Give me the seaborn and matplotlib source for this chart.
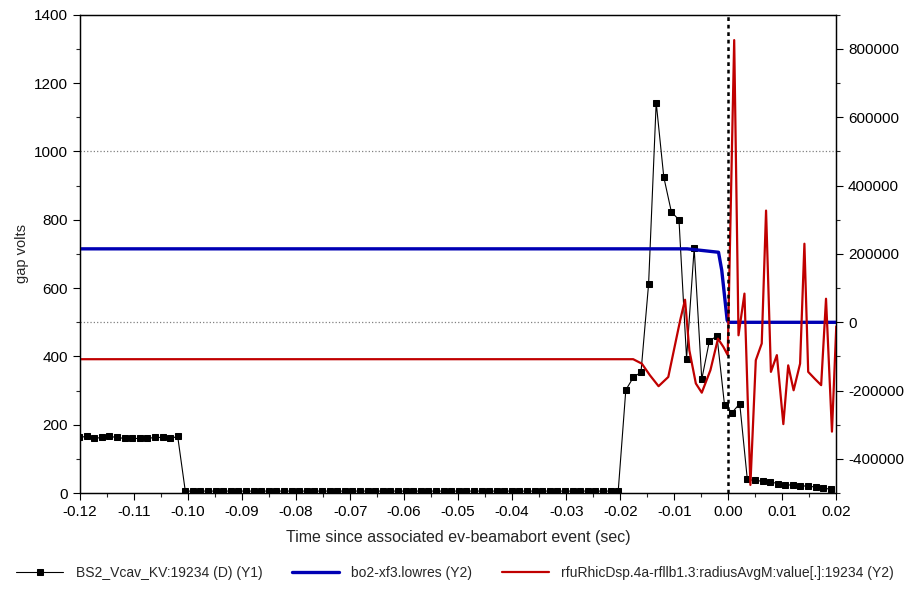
import matplotlib
matplotlib.use("Agg")
import matplotlib.pyplot as plt
import numpy as np
import pandas as pd
import seaborn as sns
from matplotlib.ticker import FormatStrFormatter, MultipleLocator

# --- data ---
# BS2_Vcav_KV: evenly sampled, 100 samples
vcav_t_start, vcav_t_end, vcav_n = -0.1202, 0.0190, 100
vcav_kv = (
    [163, 166, 160, 163, 166, 163, 160, 160, 160, 160, 163, 163, 160, 166]
    + [6] * 58
    + [302, 339, 354, 612, 1143, 925, 823, 800, 394, 717, 333, 445, 460, 257, 236, 262, 40]
    + [37, 35, 33, 28, 25, 23, 22, 20, 18, 15, 11]
)

# bo2-xf3.lowres (right axis)
lowres_t = [-0.12, -0.0076, -0.0018, -0.0012, -0.0002, 0.0001, 0.02]
lowres_v = [215000, 215000, 205000, 152000, 6000, 0, 0]

# rfuRhicDsp radiusAvgM (right axis)
radius_t = [-0.12, -0.0176, -0.0160, -0.0145, -0.0129, -0.0111, -0.0089, -0.0080,
            -0.0072, -0.0060, -0.0049, -0.0033, -0.0019, -0.0009, -0.0001,
            0.0011, 0.0019, 0.0030, 0.0041, 0.0051, 0.0062, 0.0070, 0.0079,
            0.0090, 0.0102, 0.0111, 0.0121, 0.0133, 0.0141, 0.0148, 0.0160,
            0.0172, 0.0181, 0.0192, 0.0200]
radius_v = [-108000, -108000, -121000, -155000, -187000, -160000, 6000, 66000,
            -82000, -179000, -206000, -140000, -48000, -72000, -96000,
            826000, -38000, 84000, -476000, -111000, -62000, 327000, -145000,
            -96000, -298000, -126000, -199000, -121000, 230000, -145000, -165000,
            -184000, 69000, -320000, -12000]

labels = ["BS2_Vcav_KV:19234 (D) (Y1)", "bo2-xf3.lowres (Y2)",
          "rfuRhicDsp.4a-rfllb1.3:radiusAvgM:value[.]:19234 (Y2)"]

vcav = pd.DataFrame({"t": np.linspace(vcav_t_start, vcav_t_end, vcav_n), "v": vcav_kv})
lowres = pd.DataFrame({"t": lowres_t, "v": lowres_v})
radius = pd.DataFrame({"t": radius_t, "v": radius_v})

sns.set_style("ticks")
plt.rcParams["font.family"] = ["Liberation Sans", "DejaVu Sans"]
plt.rcParams["axes.unicode_minus"] = False

fig = plt.figure(figsize=(9.2, 5.92), dpi=100)
ax = fig.add_axes([0.087, 0.167, 0.822, 0.808])
ax2 = ax.twinx()

ax.axhline(500, color="gray", ls=":", lw=0.9)
ax.axhline(1000, color="gray", ls=":", lw=0.9)

sns.lineplot(data=vcav, x="t", y="v", ax=ax, color="black", lw=0.8,
             marker="s", markersize=4, markeredgecolor="black",
             estimator=None, label=labels[0], legend=False)
sns.lineplot(data=lowres, x="t", y="v", ax=ax2, color="#0000b4", lw=2.4,
             estimator=None, label=labels[1], legend=False)
sns.lineplot(data=radius, x="t", y="v", ax=ax2, color="#c00000", lw=1.6,
             estimator=None, label=labels[2], legend=False)

ax2.axvline(0, color="black", ls=(0, (1.5, 1.5)), lw=1.8)

ax.set_xlim(-0.12, 0.02)
ax.set_ylim(0, 1400)
ax2.set_ylim(-500000, 900000)

ax.xaxis.set_major_locator(MultipleLocator(0.01))
ax.xaxis.set_minor_locator(MultipleLocator(0.005))
ax.xaxis.set_major_formatter(FormatStrFormatter("%.2f"))
ax.yaxis.set_major_locator(MultipleLocator(200))
ax.yaxis.set_minor_locator(MultipleLocator(100))
ax2.yaxis.set_major_locator(MultipleLocator(200000))
ax2.yaxis.set_minor_locator(MultipleLocator(100000))
ax2.yaxis.set_major_formatter(FormatStrFormatter("%d"))

for a in (ax, ax2):
    a.tick_params(which="major", length=5, width=0.8, labelsize=11, colors="black")
    a.tick_params(which="minor", length=3, width=0.8)
    for s in a.spines.values():
        s.set_visible(True)
        s.set_color("black")
        s.set_linewidth(0.9)

ax.set_xlabel("Time since associated ev-beamabort event (sec)", fontsize=11.5,
              labelpad=8)
ax.set_ylabel("gap volts", fontsize=10.5)
ax2.set_ylabel("")

handles = [h for h in ax.get_lines() if h.get_label() == labels[0]] + \
          [h for h in ax2.get_lines() if h.get_label() in labels[1:]]
fig.legend(handles, labels, loc="lower left", bbox_to_anchor=(0.004, 0.0),
           ncol=3, frameon=False, handlelength=3.4, handletextpad=0.9,
           columnspacing=2.1, fontsize=10)

fig.savefig("out.png", dpi=100)
